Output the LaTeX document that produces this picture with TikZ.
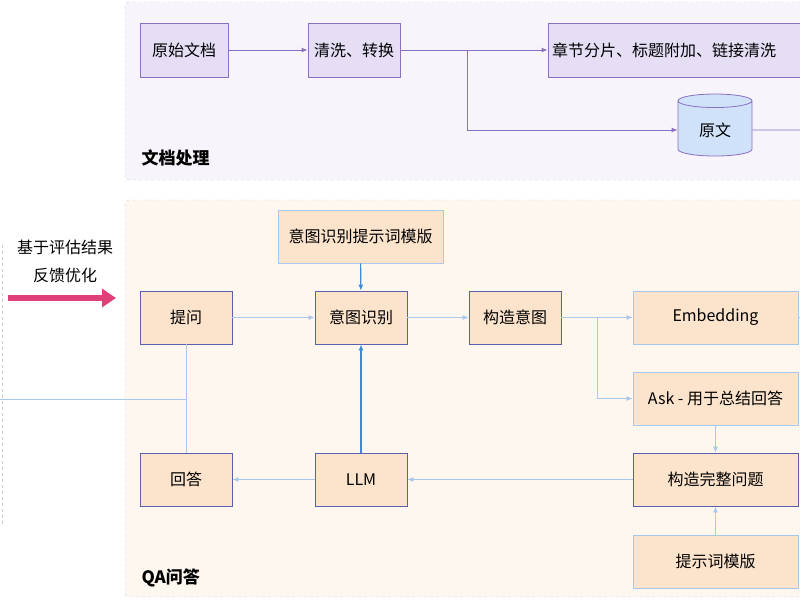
\documentclass[tikz,border=0pt]{standalone}
\usepackage{fontspec}
\setmainfont{Noto Sans CJK SC}
\usetikzlibrary{arrows.meta, shapes.geometric, positioning}
\definecolor{docfill}{HTML}{F8F4FC}
\definecolor{docbox}{HTML}{E6DEF5}
\definecolor{docline}{HTML}{8A70C0}
\definecolor{qafill}{HTML}{FDF7F0}
\definecolor{qabox}{HTML}{FCE4CC}
\definecolor{qadark}{HTML}{5A5FB0}
\definecolor{qalight}{HTML}{A8C8EC}
\definecolor{qablue}{HTML}{3A8AD8}
\definecolor{cylfill}{HTML}{CFE2FA}
\definecolor{pinkarr}{HTML}{E0407A}
\tikzset{
  dbox/.style={draw=docline, fill=docbox, line width=0.8pt, minimum height=54pt, inner sep=2pt},
  qbox/.style={draw=qadark, fill=qabox, line width=0.9pt, minimum width=92pt, minimum height=53pt},
  lbox/.style={draw=qalight, fill=qabox, line width=0.9pt, minimum width=165pt, minimum height=53pt},
  darr/.style={draw=docline, line width=0.9pt, -{Latex[length=6pt,width=5pt]}},
  qarr/.style={draw=qalight, line width=0.8pt, -{Latex[length=6pt,width=5pt]}},
  barr/.style={draw=qablue, line width=1.1pt, -{Latex[length=6pt,width=5pt]}},
}
\begin{document}
\begin{tikzpicture}[x=1pt, y=-1pt, font=\fontsize{16}{19}\selectfont]
\useasboundingbox (0,0) rectangle (800,600);

% containers
\draw[docline!40, dashed, fill=docfill, rounded corners=4pt] (125,2) rectangle (830,180);
\draw[qalight!70!gray!60, dashed, fill=qafill, rounded corners=4pt] (125,200) rectangle (830,597);
\draw[gray!40, dashed] (2,245) -- (2,525);

% document processing
\node[dbox, minimum width=88pt] (raw) at (184,50) {原始文档};
\node[dbox, minimum width=92pt] (clean) at (354,50) {清洗、转换};
\node[dbox, minimum width=272pt, text width=264pt, align=left] (chunk) at (684,50) {章节分片、标题附加、链接清洗};
\node[cylinder, shape border rotate=90, aspect=0.35, draw=docline, fill=cylfill, line width=0.8pt,
  minimum width=74pt, minimum height=62pt] (orig) at (715,130) {原文};
\node[font=\fontsize{17}{20}\selectfont\bfseries, anchor=west] (doclbl) at (138,158) {文档处理};

\draw[darr] (raw) -- (clean);
\draw[darr] (clean) -- (chunk);
\coordinate (split) at (467,50);
\draw[darr] (split) |- (orig.west);
\coordinate (origout) at (800,130);
\draw[docline, line width=0.9pt] (orig.east) -- (origout);

% feedback
\node (fb1) at (65,247) {基于评估结果};
\node (fb2) at (65,275) {反馈优化};
\coordinate (fbs) at (8,298);
\coordinate (fbe) at (116,298);
\draw[pinkarr, line width=6pt, -{Triangle[length=14pt,width=18pt]}] (fbs) -- (fbe);

% QA
\node[lbox] (itpl) at (360.5,236.5) {意图识别提示词模版};
\node[qbox] (ask) at (186,317.5) {提问};
\node[qbox] (intent) at (361,317.5) {意图识别};
\node[qbox] (build) at (515,317.5) {构造意图};
\node[lbox] (embed) at (715.5,317.5) {Embedding};
\node[lbox] (sum) at (715.5,398.5) {Ask - 用于总结回答};
\node[qbox, minimum width=165pt] (full) at (715.5,479.5) {构造完整问题};
\node[lbox] (tpl) at (715.5,561.5) {提示词模版};
\node[qbox] (answer) at (186,479.5) {回答};
\node[qbox] (llm) at (361,479.5) {LLM};
\node[font=\fontsize{17}{20}\selectfont\bfseries, anchor=west] (qalbl) at (138,578) {QA问答};

\draw[qarr] (ask) -- (intent);
\draw[qarr] (intent) -- (build);
\draw[qarr] (build) -- (embed);
\coordinate (split2) at (597,317.5);
\draw[qarr] (split2) |- (sum.west);
\draw[qarr] (sum) -- (full);
\draw[qarr] (tpl) -- (full);
\draw[qarr] (full) -- (llm);
\draw[qarr] (llm) -- (answer);
\draw[barr] (llm) -- (intent);
\draw[barr] (itpl) -- (intent);
\coordinate (embout) at (800,317.5);
\draw[qalight, line width=0.8pt] (embed.east) -- (embout);
\draw[qalight, line width=0.8pt] (ask) -- (answer);
\coordinate (loopin) at (0,399);
\coordinate (loopj) at (186,399);
\draw[qalight, line width=0.8pt] (loopin) -- (loopj);

\end{tikzpicture}
\end{document}
